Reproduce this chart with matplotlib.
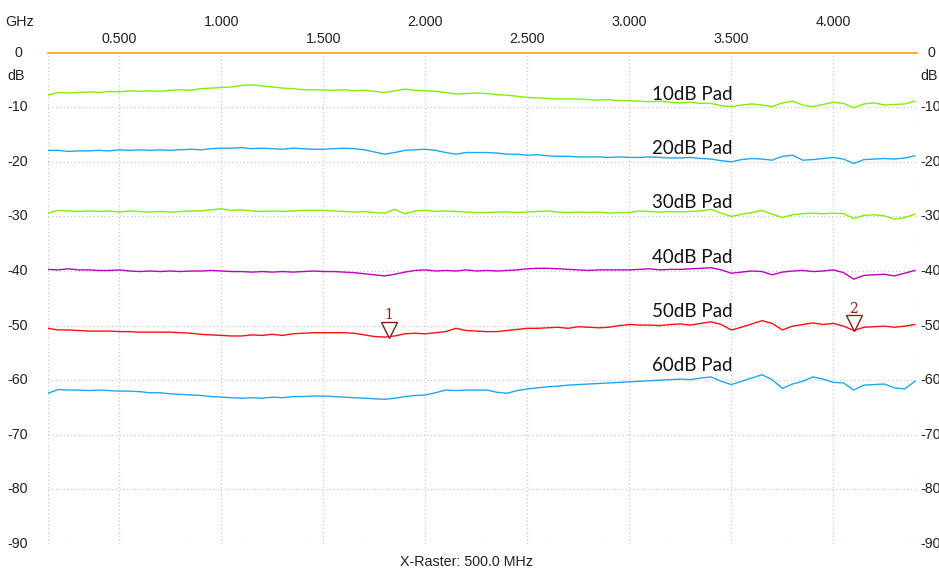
import matplotlib.pyplot as plt
import matplotlib.transforms as mtrans
import numpy as np

# frequency axis of the sweep (GHz), one reading every 50 MHz
freq = np.linspace(0.15, 4.40, 86)

pad10 = [-7.8, -7.3, -7.4, -7.3, -7.2, -7.3, -7.1, -7.2, -7.0, -7.1,
         -7.0, -7.1, -6.9, -6.8, -6.9, -6.6, -6.5, -6.4, -6.3, -6.0,
         -5.9, -6.1, -6.3, -6.5, -6.6, -6.8, -6.8, -6.85, -6.9, -6.8,
         -7.0, -6.9, -7.1, -7.3, -7.0, -6.7, -6.9, -7.0, -7.1, -7.3,
         -7.6, -7.5, -7.4, -7.5, -7.7, -7.8, -8.0, -8.2, -8.3, -8.4,
         -8.5, -8.5, -8.5, -8.6, -8.7, -8.6, -8.8, -8.8, -8.9, -9.0,
         -8.9, -9.1, -9.2, -9.1, -9.3, -9.3, -9.7, -9.9, -9.6, -9.4,
         -9.6, -9.9, -9.2, -8.9, -9.6, -9.9, -9.5, -9.1, -9.3, -10.1,
         -9.4, -9.2, -9.6, -9.5, -9.4, -8.9]

pad20 = [-17.9, -17.9, -18.1, -18.0, -18.0, -17.9, -18.0, -17.8, -17.9, -17.8,
         -17.9, -17.8, -17.9, -17.8, -17.7, -17.8, -17.6, -17.5, -17.5, -17.4,
         -17.6, -17.5, -17.6, -17.7, -17.5, -17.6, -17.7, -17.7, -17.6, -17.5,
         -17.6, -17.8, -18.2, -18.6, -18.3, -17.9, -17.8, -17.7, -17.9, -18.3,
         -18.6, -18.3, -18.3, -18.3, -18.4, -18.6, -18.6, -18.8, -18.7, -18.9,
         -19.0, -19.0, -19.1, -19.1, -19.1, -19.2, -19.1, -19.2, -19.2, -19.1,
         -19.2, -19.3, -19.3, -19.2, -19.4, -19.5, -19.8, -20.0, -19.6, -19.4,
         -19.5, -19.7, -19.0, -18.8, -19.7, -19.6, -19.4, -19.2, -19.5, -20.3,
         -19.6, -19.5, -19.4, -19.5, -19.3, -18.9]

pad30 = [-29.4, -28.9, -29.0, -29.1, -29.0, -29.1, -29.0, -29.2, -29.0, -29.1,
         -29.2, -29.1, -29.2, -29.1, -29.0, -29.0, -28.8, -28.6, -28.9, -28.8,
         -29.0, -29.1, -29.0, -29.1, -29.0, -28.9, -28.9, -28.9, -29.0, -29.1,
         -29.2, -29.1, -29.3, -29.4, -28.7, -29.5, -29.0, -28.9, -29.1, -29.0,
         -29.1, -29.2, -29.3, -29.3, -29.2, -29.2, -29.3, -29.2, -29.1, -29.0,
         -29.2, -29.3, -29.2, -29.3, -29.2, -29.4, -29.3, -29.3, -29.0, -29.1,
         -29.2, -29.1, -29.2, -29.1, -29.0, -28.7, -29.4, -30.0, -29.6, -29.3,
         -28.9, -29.6, -30.2, -29.7, -29.5, -29.4, -29.5, -29.4, -29.5, -30.4,
         -29.8, -29.7, -29.9, -30.5, -30.2, -29.6]

pad40 = [-39.7, -39.8, -39.6, -39.8, -39.8, -39.9, -39.9, -39.8, -40.0, -40.1,
         -40.0, -40.1, -40.0, -40.1, -40.0, -40.0, -39.9, -40.0, -40.1, -40.1,
         -40.2, -40.1, -40.2, -40.1, -40.2, -40.1, -40.0, -40.1, -40.1, -40.2,
         -40.3, -40.5, -40.7, -40.9, -40.6, -40.2, -39.9, -39.8, -40.0, -39.9,
         -40.0, -39.8, -40.0, -39.9, -40.0, -39.9, -39.8, -39.6, -39.5, -39.5,
         -39.6, -39.7, -39.8, -39.9, -39.8, -39.8, -39.8, -39.8, -39.7, -39.6,
         -39.8, -39.7, -39.7, -39.6, -39.5, -39.4, -39.8, -40.4, -40.2, -40.0,
         -40.1, -40.7, -40.2, -40.0, -39.9, -40.1, -40.0, -39.8, -40.3, -41.5,
         -40.8, -40.7, -40.6, -40.9, -40.4, -39.9]

pad50 = [-50.5, -50.8, -50.8, -50.9, -51.0, -51.0, -51.0, -51.1, -51.1, -51.2,
         -51.2, -51.2, -51.2, -51.3, -51.4, -51.6, -51.7, -51.8, -51.9, -51.9,
         -51.7, -51.8, -51.6, -51.8, -51.5, -51.4, -51.3, -51.3, -51.3, -51.3,
         -51.4, -51.7, -52.0, -52.1, -51.9, -51.5, -51.4, -51.5, -51.3, -51.1,
         -50.5, -50.9, -51.0, -51.1, -51.1, -50.9, -50.7, -50.5, -50.5, -50.4,
         -50.3, -50.5, -50.2, -50.3, -50.4, -50.3, -50.0, -49.8, -49.9, -49.9,
         -50.0, -49.8, -49.7, -49.9, -49.6, -49.3, -49.8, -50.8, -50.3, -49.7,
         -49.1, -49.6, -50.8, -50.1, -49.8, -49.5, -49.8, -49.6, -50.1, -50.9,
         -50.3, -50.2, -50.1, -50.3, -50.1, -49.8]

pad60 = [-62.4, -61.7, -61.8, -61.8, -61.9, -61.8, -61.9, -62.0, -62.0, -62.1,
         -62.3, -62.3, -62.5, -62.6, -62.7, -62.8, -63.0, -63.1, -63.2, -63.3,
         -63.2, -63.3, -63.1, -63.2, -63.0, -63.0, -62.9, -62.9, -63.0, -63.1,
         -63.2, -63.3, -63.4, -63.5, -63.3, -63.0, -62.8, -62.7, -62.3, -61.8,
         -61.9, -61.8, -61.8, -61.8, -62.2, -62.4, -61.9, -61.6, -61.4, -61.2,
         -61.1, -60.9, -60.8, -60.7, -60.6, -60.5, -60.4, -60.3, -60.2, -60.1,
         -60.0, -59.9, -59.8, -59.9, -59.6, -59.4, -60.2, -60.8, -60.2, -59.6,
         -59.0, -59.9, -61.5, -60.7, -60.2, -59.4, -59.8, -60.4, -60.5, -61.8,
         -60.9, -60.8, -60.7, -61.4, -61.6, -60.2]

traces = [pad10, pad20, pad30, pad40, pad50, pad60]
trace_colors = ['#80f000', '#1ea8f0', '#80f000', '#c000c0', '#ff1010', '#1ea8f0']
pad_labels = ['10dB Pad', '20dB Pad', '30dB Pad', '40dB Pad', '50dB Pad', '60dB Pad']
pad_label_y = [-8.6, -18.6, -28.5, -38.5, -48.4, -58.3]
pad_label_x = 3.113

ref_freq = [0.15, 4.41]
ref_db = [0.0, 0.0]

marker_freq = [1.82, 4.10]
marker_db = [-52.1, -50.9]
marker_names = ['1', '2']

xlo, xhi = 0.15, 4.41
xticks = [0.5, 1.0, 1.5, 2.0, 2.5, 3.0, 3.5, 4.0]
yticks = [0, -10, -20, -30, -40, -50, -60, -70, -80, -90]

fig = plt.figure(figsize=(9.39, 5.69), dpi=100)
ax = fig.add_axes([48 / 939, 1 - 544 / 569, (917 - 48) / 939, (544 - 52.6) / 569])
ax.set_xlim(xlo, xhi)
ax.set_ylim(-90, 0)
for s in ax.spines.values():
    s.set_visible(False)
ax.set_xticks([])
ax.set_yticks([])

# dotted raster, edges included
grid_kw = dict(color='#c8c8c8', lw=0.9, ls=(0, (1, 2)), zorder=1)
for xv in [xlo] + xticks + [xhi]:
    ax.axvline(xv, **grid_kw)
for yv in yticks:
    ax.axhline(yv, **grid_kw)

ax.plot(ref_freq, ref_db, color='#ffa820', lw=1.3, zorder=3, clip_on=False)
for vals, c in zip(traces, trace_colors):
    ax.plot(freq, vals, color=c, lw=1.0, zorder=3)

for txt, yv in zip(pad_labels, pad_label_y):
    ax.text(pad_label_x, yv, txt, fontsize=13.5, family='Lato',
            color='#111111', ha='left', va='baseline', zorder=4)

# markers: triangle tip sits on the trace
lift = ax.transData + mtrans.ScaledTranslation(0, 7.5 / 100, fig.dpi_scale_trans)
for mf, md, mn in zip(marker_freq, marker_db, marker_names):
    ax.plot([mf], [md], marker='v', markersize=11, markerfacecolor='white',
            markeredgecolor='#8b1a1a', markeredgewidth=1.0, ls='none',
            zorder=5, transform=lift)
    ax.annotate(mn, xy=(mf, md), xytext=(0, 22), textcoords='offset pixels',
                ha='center', va='center', fontsize=10, color='#a01818',
                family='DejaVu Serif')

tick_kw = dict(fontsize=10.3, family='Liberation Sans', color='#222222')

# staggered frequency labels on top
for i, xv in enumerate(xticks):
    dy = 13.6 if i % 2 == 0 else 30.6
    ax.annotate('%.3f' % xv, xy=(xv, 1), xycoords=('data', 'axes fraction'),
                xytext=(0, dy), textcoords='offset pixels', ha='center', va='center', **tick_kw)
ax.annotate('GHz', xy=(0, 1), xycoords='axes fraction', xytext=(-28, 30.6),
            textcoords='offset pixels', ha='center', va='center', **tick_kw)

# dB labels on both sides
for yv in yticks:
    ax.annotate(str(yv), xy=(0, yv), xycoords=('axes fraction', 'data'),
                xytext=(-30, 0), textcoords='offset pixels', ha='center', va='center', **tick_kw)
    ax.annotate(str(yv), xy=(1, yv), xycoords=('axes fraction', 'data'),
                xytext=(14, 0), textcoords='offset pixels', ha='center', va='center', **tick_kw)
ax.annotate('dB', xy=(0, 1), xycoords='axes fraction', xytext=(-32, -23),
            textcoords='offset pixels', ha='center', va='center', **tick_kw)
ax.annotate('dB', xy=(1, 1), xycoords='axes fraction', xytext=(12, -23),
            textcoords='offset pixels', ha='center', va='center', **tick_kw)

ax.annotate('X-Raster: 500.0 MHz', xy=(0.5, 0), xycoords='axes fraction',
            xytext=(-16, -18), textcoords='offset pixels',
            ha='center', va='center', **tick_kw)

fig.savefig('out.png', dpi=100)
